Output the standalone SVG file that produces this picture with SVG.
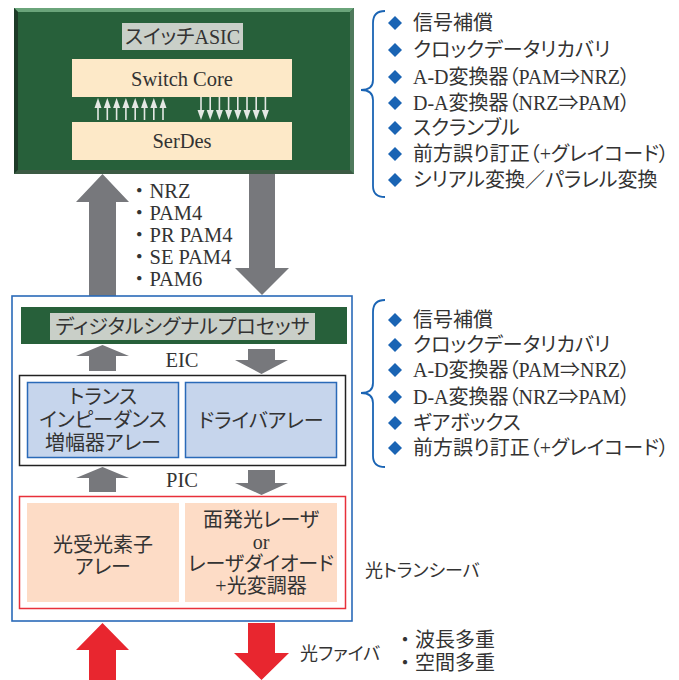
<svg xmlns="http://www.w3.org/2000/svg" width="679" height="680" viewBox="0 0 679 680">
<defs>
<style>
.t{font-family:"Liberation Serif","Noto Sans CJK JP",serif;font-size:20px;fill:#333;font-feature-settings:"palt" 1;}
.np{font-feature-settings:normal;}
.c{text-anchor:middle;}
.gray{fill:#77787c;}
.red{fill:#e8262f;}
.dia{fill:#1a64b4;}
.brace{fill:none;stroke:#1a64b4;stroke-width:1.8;}
.wa{fill:#e4e8e4;}
.lbl{fill:#c9cfc8;}
.cream{fill:#fde9c8;}
</style>
<g id="up-s"><rect x="-0.8" y="8" width="1.6" height="14" class="wa"/><polygon points="0,0 3.5,10 -3.5,10" class="wa"/></g>
<g id="dn-s"><rect x="-0.8" y="0" width="1.6" height="14" class="wa"/><polygon points="0,23 3.5,13 -3.5,13" class="wa"/></g>
<polygon id="dia" points="0,-7 7,0 0,7 -7,0" class="dia"/>
</defs>
<rect width="679" height="680" fill="#fff"/>

<g id="asic">
<rect x="14" y="8" width="340" height="166" fill="#27603a"/>
<polygon points="14,8 354,8 350,12 18,12" fill="#6aa47a"/>
<polygon points="14,8 18,12 18,170 14,174" fill="#1d3a27"/>
<polygon points="14,174 18,170 350,170 354,174" fill="#3c5a44"/>
<polygon points="354,8 350,12 350,170 354,174" fill="#4f7a5c"/>
<rect x="122" y="23" width="121" height="27" class="lbl"/>
<text x="182.5" y="44" class="t c">スイッチASIC</text>
<rect x="72" y="59" width="220" height="38" class="cream"/>
<text x="182" y="86" class="t c" style="font-size:20.5px">Switch Core</text>
<rect x="72" y="122" width="220" height="38" class="cream"/>
<text x="182" y="148" class="t c" style="font-size:20.5px">SerDes</text>
<use href="#up-s" x="98" y="98"/><use href="#up-s" x="107.3" y="98"/><use href="#up-s" x="116.6" y="98"/><use href="#up-s" x="125.9" y="98"/>
<use href="#up-s" x="135.2" y="98"/><use href="#up-s" x="144.5" y="98"/><use href="#up-s" x="153.8" y="98"/><use href="#up-s" x="163" y="98"/>
<use href="#dn-s" x="201" y="97"/><use href="#dn-s" x="210.2" y="97"/><use href="#dn-s" x="219.4" y="97"/><use href="#dn-s" x="228.6" y="97"/>
<use href="#dn-s" x="237.8" y="97"/><use href="#dn-s" x="247" y="97"/><use href="#dn-s" x="256.2" y="97"/><use href="#dn-s" x="265.4" y="97"/>
</g>

<g id="connectors">
<polygon class="gray" points="89,296 89,202 76,202 102.5,174 129,202 116,202 116,296"/>
<polygon class="gray" points="249,174 275,174 275,268 289,268 262,295 235,268 249,268"/>
<polygon class="gray" points="89,371 89,356 76,356 102.5,345 129,356 116,356 116,371"/>
<polygon class="gray" points="248,349 275,349 275,360 288,360 261.5,374 235,360 248,360"/>
<polygon class="gray" points="89,492 89,478 76,478 102.5,467 129,478 116,478 116,492"/>
<polygon class="gray" points="248,470 275,470 275,483 288,483 261.5,495 235,483 248,483"/>
<polygon class="red" points="89,680 89,650 76,650 102.5,623 129,650 116,650 116,680"/>
<polygon class="red" points="248,623 275,623 275,653 289,653 261.5,680 234,653 248,653"/>
</g>

<g id="formats">
<text x="129" y="198" class="t np" style="font-size:20.5px">・NRZ</text>
<text x="129" y="220" class="t np" style="font-size:20.5px">・PAM4</text>
<text x="129" y="242" class="t np" style="font-size:20.5px">・PR PAM4</text>
<text x="129" y="264" class="t np" style="font-size:20.5px">・SE PAM4</text>
<text x="129" y="286" class="t np" style="font-size:20.5px">・PAM6</text>
</g>

<g id="transceiver">
<rect x="12" y="296" width="340" height="325" fill="none" stroke="#2a6ab8" stroke-width="1.6"/>
<text x="365" y="577" class="t" style="font-size:18px">光トランシーバ</text>
</g>

<g id="dsp">
<rect x="21" y="307" width="326" height="37" fill="#27603a"/>
<rect x="50" y="313" width="265" height="27" class="lbl"/>
<text x="182.5" y="334" class="t c">ディジタルシグナルプロセッサ</text>
</g>

<text x="182" y="367" class="t c" style="font-size:20.5px">EIC</text>

<g id="eic">
<rect x="19.5" y="375.5" width="326" height="90" fill="#fff" stroke="#222" stroke-width="1.5"/>
</g>
<g id="tia">
<rect x="27.5" y="382.5" width="151" height="75" fill="#c6d5ec" stroke="#2a6ab8" stroke-width="1.5"/>
<text x="103" y="404" class="t c">トランス</text>
<text x="103" y="427" class="t c">インピーダンス</text>
<text x="103" y="450" class="t c">増幅器アレー</text>
</g>
<g id="driver">
<rect x="185.5" y="382.5" width="151" height="75" fill="#c6d5ec" stroke="#2a6ab8" stroke-width="1.5"/>
<text x="261" y="428" class="t c">ドライバアレー</text>
</g>

<text x="182" y="487" class="t c" style="font-size:20.5px">PIC</text>

<g id="pic">
<rect x="19.5" y="496.5" width="326" height="112" fill="#fff" stroke="#e8303a" stroke-width="1.5"/>
</g>
<g id="pd">
<rect x="27" y="503" width="152" height="99" fill="#fddcc6"/>
<text x="103" y="552" class="t c">光受光素子</text>
<text x="103" y="574" class="t c">アレー</text>
</g>
<g id="laser">
<rect x="185" y="503" width="152" height="99" fill="#fddcc6"/>
<text x="261" y="527" class="t c">面発光レーザ</text>
<text x="261" y="549" class="t c">or</text>
<text x="261" y="571" class="t c">レーザダイオード</text>
<text x="261" y="593" class="t c">+光変調器</text>
</g>

<g id="fiber">
<text x="300" y="660" class="t" style="font-size:18px">光ファイバ</text>
<text x="395" y="647" class="t np">・波長多重</text>
<text x="395" y="670" class="t np">・空間多重</text>
</g>

<g id="asic-functions">
<path class="brace" d="M385,11 Q373,11 373,23 L373,80 Q373,90 361,90 Q373,90 373,100 L373,186 Q373,197 385,197"/>
<use href="#dia" x="395" y="23"/><use href="#dia" x="395" y="50"/><use href="#dia" x="395" y="77"/><use href="#dia" x="395" y="103"/>
<use href="#dia" x="395" y="128"/><use href="#dia" x="395" y="154"/><use href="#dia" x="395" y="180"/>
<text x="413" y="30" class="t">信号補償</text>
<text x="413" y="57" class="t">クロックデータリカバリ</text>
<text x="413" y="84" class="t">A-D変換器（PAM⇒NRZ）</text>
<text x="413" y="110" class="t">D-A変換器（NRZ⇒PAM）</text>
<text x="413" y="135" class="t">スクランブル</text>
<text x="413" y="161" class="t">前方誤り訂正（+グレイコード）</text>
<text x="413" y="187" class="t">シリアル変換／パラレル変換</text>
</g>

<g id="dsp-functions">
<path class="brace" d="M385,300 Q373,300 373,312 L373,383 Q373,393 361,393 Q373,393 373,403 L373,456 Q373,467 385,467"/>
<use href="#dia" x="395" y="320"/><use href="#dia" x="395" y="345"/><use href="#dia" x="395" y="370"/><use href="#dia" x="395" y="397"/>
<use href="#dia" x="395" y="423"/><use href="#dia" x="395" y="448"/>
<text x="413" y="327" class="t">信号補償</text>
<text x="413" y="352" class="t">クロックデータリカバリ</text>
<text x="413" y="377" class="t">A-D変換器（PAM⇒NRZ）</text>
<text x="413" y="404" class="t">D-A変換器（NRZ⇒PAM）</text>
<text x="413" y="430" class="t">ギアボックス</text>
<text x="413" y="455" class="t">前方誤り訂正（+グレイコード）</text>
</g>
</svg>
